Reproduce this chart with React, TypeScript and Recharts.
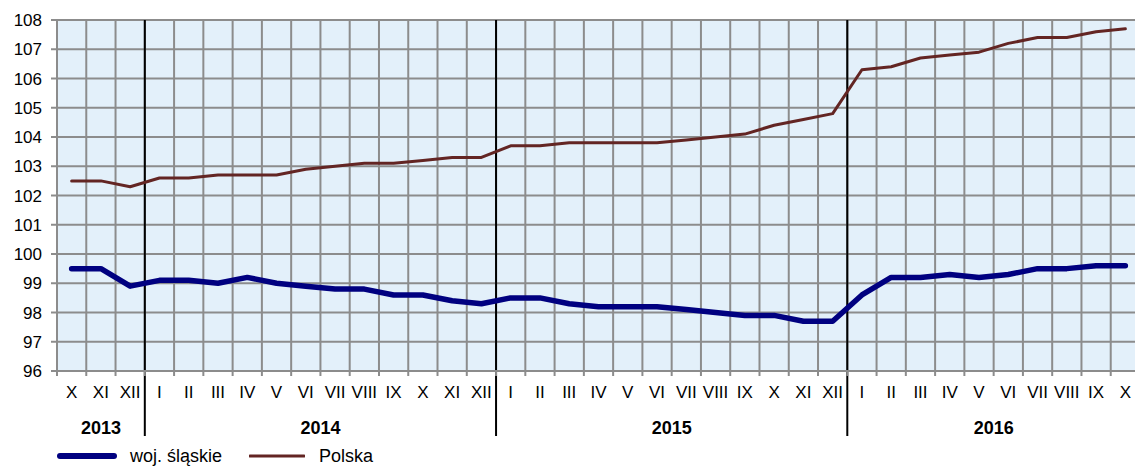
import React from "react";
import {
  CartesianGrid,
  Legend,
  Line,
  LineChart,
  ReferenceLine,
  XAxis,
  YAxis,
} from "recharts";

const monthLabels = [
  "X", "XI", "XII",
  "I", "II", "III", "IV", "V", "VI", "VII", "VIII", "IX", "X", "XI", "XII",
  "I", "II", "III", "IV", "V", "VI", "VII", "VIII", "IX", "X", "XI", "XII",
  "I", "II", "III", "IV", "V", "VI", "VII", "VIII", "IX", "X",
];

const yearLabels = ["2013", "2014", "2015", "2016"];
const monthsPerYear = [3, 12, 12, 10];

const slaskie = [
  99.5, 99.5, 98.9,
  99.1, 99.1, 99.0, 99.2, 99.0, 98.9, 98.8, 98.8, 98.6, 98.6, 98.4, 98.3,
  98.5, 98.5, 98.3, 98.2, 98.2, 98.2, 98.1, 98.0, 97.9, 97.9, 97.7, 97.7,
  98.6, 99.2, 99.2, 99.3, 99.2, 99.3, 99.5, 99.5, 99.6, 99.6,
];

const polska = [
  102.5, 102.5, 102.3,
  102.6, 102.6, 102.7, 102.7, 102.7, 102.9, 103.0, 103.1, 103.1, 103.2, 103.3, 103.3,
  103.7, 103.7, 103.8, 103.8, 103.8, 103.8, 103.9, 104.0, 104.1, 104.4, 104.6, 104.8,
  106.3, 106.4, 106.7, 106.8, 106.9, 107.2, 107.4, 107.4, 107.6, 107.7,
];

const yTicks = [96, 97, 98, 99, 100, 101, 102, 103, 104, 105, 106, 107, 108];

const NAVY = "#000080";
const BROWN = "#632523";
const GRID = "#8c8c8c";
const FONT = "'Liberation Sans', Arial, sans-serif";

const count = monthLabels.length;
const rows = monthLabels.map((m, i) => ({
  x: i + 0.5,
  month: m,
  slaskie: slaskie[i],
  polska: polska[i],
}));

const boundaryTicks = Array.from({ length: count + 1 }, (_, i) => i);
const labelTicks = rows.map((r) => r.x);

// year ranges -> separators and label centres
const yearStarts: number[] = [];
monthsPerYear.reduce((acc, n) => {
  yearStarts.push(acc);
  return acc + n;
}, 0);
const yearSeparators = yearStarts.slice(1);
const yearCenters = yearStarts.map((s, i) => s + monthsPerYear[i] / 2);

function EmptyTick() {
  return <g />;
}

function YearLine(props: any) {
  const top = Math.min(props.y1, props.y2);
  const bottom = Math.max(props.y1, props.y2);
  return (
    <line
      x1={props.x1}
      x2={props.x2}
      y1={top}
      y2={bottom + 65}
      stroke="#000"
      strokeWidth={2}
    />
  );
}

function LegendContent() {
  const text: React.CSSProperties = { fontSize: 18, color: "#000", lineHeight: "20px" };
  return (
    <div style={{ display: "flex", alignItems: "center", height: 20, fontFamily: FONT }}>
      <svg width={60} height={20} style={{ marginLeft: 57 }}>
        <line x1={3} x2={57} y1={10} y2={10} stroke={NAVY} strokeWidth={6} strokeLinecap="round" />
      </svg>
      <span style={{ ...text, marginLeft: 13 }}>woj. śląskie</span>
      <svg width={56} height={20} style={{ marginLeft: 27 }}>
        <line x1={1} x2={55} y1={10} y2={10} stroke={BROWN} strokeWidth={3} strokeLinecap="round" />
      </svg>
      <span style={{ ...text, marginLeft: 14 }}>Polska</span>
    </div>
  );
}

export default function App() {
  return (
    <div style={{ width: 1135, height: 466, overflow: "hidden", background: "#fff" }}>
      <style>{"body{margin:0}"}</style>
      <LineChart
        width={1142}
        height={466}
        data={rows}
        margin={{ top: 20, right: 2, left: 0, bottom: 0 }}
        style={{ fontFamily: FONT }}
      >
        <CartesianGrid
          xAxisId="grid"
          verticalValues={boundaryTicks}
          horizontalValues={yTicks}
          fill="#e3f0fa"
          fillOpacity={1}
          stroke={GRID}
          strokeWidth={2}
        />
        <XAxis
          xAxisId="grid"
          dataKey="x"
          type="number"
          domain={[0, count]}
          ticks={boundaryTicks}
          interval={0}
          tick={EmptyTick}
          tickSize={5}
          height={5}
          axisLine={{ stroke: GRID, strokeWidth: 2 }}
          tickLine={{ stroke: GRID, strokeWidth: 2 }}
        />
        <XAxis
          xAxisId="months"
          dataKey="x"
          type="number"
          domain={[0, count]}
          ticks={labelTicks}
          interval={0}
          tickFormatter={(v: number) => monthLabels[Math.floor(v)]}
          tick={{ fill: "#000", fontSize: 17 }}
          tickSize={0}
          tickMargin={10}
          height={30}
          axisLine={false}
          tickLine={false}
        />
        <XAxis
          xAxisId="years"
          dataKey="x"
          type="number"
          domain={[0, count]}
          ticks={yearCenters}
          interval={0}
          tickFormatter={(v: number) => yearLabels[yearCenters.indexOf(v)]}
          tick={{ fill: "#000", fontSize: 18, fontWeight: "bold" }}
          tickSize={0}
          tickMargin={15}
          height={40}
          axisLine={false}
          tickLine={false}
        />
        <YAxis
          domain={[96, 108]}
          ticks={yTicks}
          interval={0}
          width={57}
          tick={{ fill: "#000", fontSize: 17 }}
          tickSize={6}
          tickMargin={9}
          axisLine={{ stroke: GRID, strokeWidth: 2 }}
          tickLine={{ stroke: GRID, strokeWidth: 2 }}
        />
        {yearSeparators.map((s) => (
          <ReferenceLine key={s} xAxisId="grid" x={s} shape={YearLine} />
        ))}
        <Legend
          verticalAlign="bottom"
          align="left"
          content={<LegendContent />}
          wrapperStyle={{ left: 0, bottom: 0, width: 600, height: 20 }}
        />
        <Line
          xAxisId="months"
          dataKey="slaskie"
          name="woj. śląskie"
          stroke={NAVY}
          strokeWidth={5.5}
          strokeLinejoin="round"
          strokeLinecap="round"
          dot={false}
          activeDot={false}
          isAnimationActive={false}
        />
        <Line
          xAxisId="months"
          dataKey="polska"
          name="Polska"
          stroke={BROWN}
          strokeWidth={3}
          strokeLinejoin="round"
          strokeLinecap="round"
          dot={false}
          activeDot={false}
          isAnimationActive={false}
        />
      </LineChart>
    </div>
  );
}
